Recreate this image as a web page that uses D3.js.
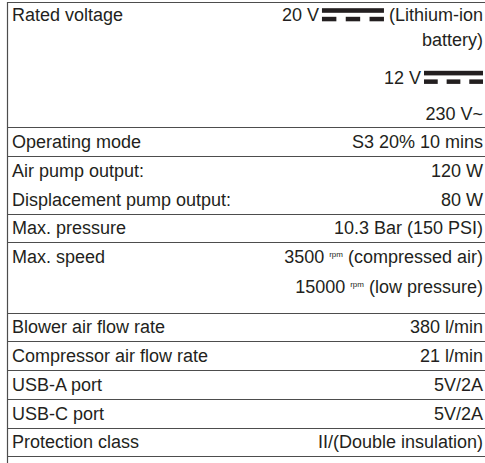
<!DOCTYPE html>
<html>
<head>
<meta charset="utf-8">
<script src="https://cdn.jsdelivr.net/npm/d3@7"></script>
<style>
  body { margin: 0; background: #fff; }
  text { font-family: "Liberation Sans", Arial, sans-serif; font-size: 18px; fill: #231f20; }
</style>
</head>
<body>
<div id="table"></div>
<script>
// left column: parameter names (several names in one row = paragraphs of the same cell)
const labels = [
  ["Rated voltage"],
  ["Operating mode"],
  ["Air pump output:", "Displacement pump output:"],
  ["Max. pressure"],
  ["Max. speed"],
  ["Blower air flow rate"],
  ["Compressor air flow rate"],
  ["USB-A port"],
  ["USB-C port"],
  ["Protection class"]
];

// right column: "⎓" = DC symbol, "^rpm" = superscript, "»" = wrapped continuation line
const values = [
  ["20 V ⎓ (Lithium-ion", "»battery)", "12 V ⎓", "230 V~"],
  ["S3 20% 10 mins"],
  ["120 W", "80 W"],
  ["10.3 Bar (150 PSI)"],
  ["3500 ^rpm (compressed air)", "15000 ^rpm (low pressure)"],
  ["380 l/min"],
  ["21 l/min"],
  ["5V/2A"],
  ["5V/2A"],
  ["II/(Double insulation)"]
];

const width = 485, height = 463;
const borderX = 7, textLeft = 12, textRight = 483, topY = 2;
const lineH = 28.6, wrapH = 25, padTop = 14.5, padBottom = 14.25;
const symAbove = 9, symBelow = 7, supAdv = 1.4, supBelow = 11.5;
const ink = "#231f20";

const svg = d3.select("#table").append("svg")
  .attr("width", width).attr("height", height);

// lay out lines row by row
let y = topY;
const rowLines = [];
const layout = [];
values.forEach((vals) => {
  const rowTop = y;
  let c = null, prevSym = false, anySup = false;
  const centers = [];
  vals.forEach((v) => {
    const sym = v.includes("⎓"), sup = v.includes("^"), wrap = v.startsWith("»");
    if (c === null) c = rowTop + padTop - (sym ? 1.5 : 0);
    else if (wrap) c += wrapH;
    else c += lineH + (sym ? symAbove : 0) + (prevSym ? symBelow : 0) + (sup ? supAdv : 0);
    if (sup) anySup = true;
    prevSym = sym;
    centers.push(c);
  });
  y = c + padBottom + (anySup ? supBelow : 0);
  layout.push({ top: rowTop, bottom: y, centers });
  rowLines.push(y);
});

const yScale = d3.scaleLinear().domain([0, height]).range([0, height]);

// horizontal rules
svg.selectAll("line.rule")
  .data([topY].concat(rowLines))
  .join("line")
  .attr("class", "rule")
  .attr("x1", borderX).attr("x2", width)
  .attr("y1", d => Math.round(yScale(d)) + 0.5)
  .attr("y2", d => Math.round(yScale(d)) + 0.5)
  .attr("stroke", "#4d4d4d").attr("stroke-width", 1);

// left border
svg.append("line")
  .attr("x1", borderX + 0.5).attr("x2", borderX + 0.5)
  .attr("y1", topY).attr("y2", height)
  .attr("stroke", "#4d4d4d").attr("stroke-width", 1.2);

// labels
labels.forEach((labs, r) => {
  const cs = layout[r].centers;
  labs.forEach((t, i) => {
    svg.append("text")
      .attr("x", textLeft)
      .attr("y", yScale(cs[i]))
      .attr("dy", "0.35em")
      .text(t);
  });
});

// DC symbol: solid bar over three dashes, spanning the cap height
function dcSymbol(g, x, cy, w) {
  g.append("rect").attr("x", x).attr("y", cy - 6.8).attr("width", w).attr("height", 4.6).attr("fill", ink);
  const seg = w / 4.3;
  [0, 1, 2].forEach(k => {
    g.append("rect")
      .attr("x", x + k * (w - seg) / 2)
      .attr("y", cy + 1.8)
      .attr("width", seg).attr("height", 4.5)
      .attr("fill", ink);
  });
}

values.forEach((vals, r) => {
  const cs = layout[r].centers;
  vals.forEach((v, i) => {
    const cy = yScale(cs[i]);
    const s = v.replace("»", "");
    if (s.includes("⎓")) {
      const [before, after] = s.split("⎓").map(d => d.trim());
      const symW = after ? 62 : 59, gapAfter = 5, gapBefore = 3;
      let xr = textRight;
      if (after) {
        const t = svg.append("text").attr("x", xr).attr("y", cy).attr("dy", "0.35em")
          .attr("text-anchor", "end").text(after);
        xr -= t.node().getComputedTextLength() + gapAfter;
      }
      dcSymbol(svg, xr - symW, cy, symW);
      xr -= symW + gapBefore;
      svg.append("text").attr("x", xr).attr("y", cy).attr("dy", "0.35em")
        .attr("text-anchor", "end").text(before);
    } else if (s.includes("^")) {
      const m = s.match(/^(.*?)\s*\^(\S+)\s*(.*)$/);
      const t = svg.append("text").attr("x", textRight).attr("y", cy).attr("dy", "0.35em")
        .attr("text-anchor", "end");
      t.append("tspan").text(m[1] + " ");
      t.append("tspan").attr("font-size", 8).attr("dy", -6).text(m[2]);
      t.append("tspan").attr("dy", 6).text(" " + m[3]);
    } else {
      svg.append("text").attr("x", textRight).attr("y", cy).attr("dy", "0.35em")
        .attr("text-anchor", "end").text(s);
    }
  });
});
</script>
</body>
</html>
